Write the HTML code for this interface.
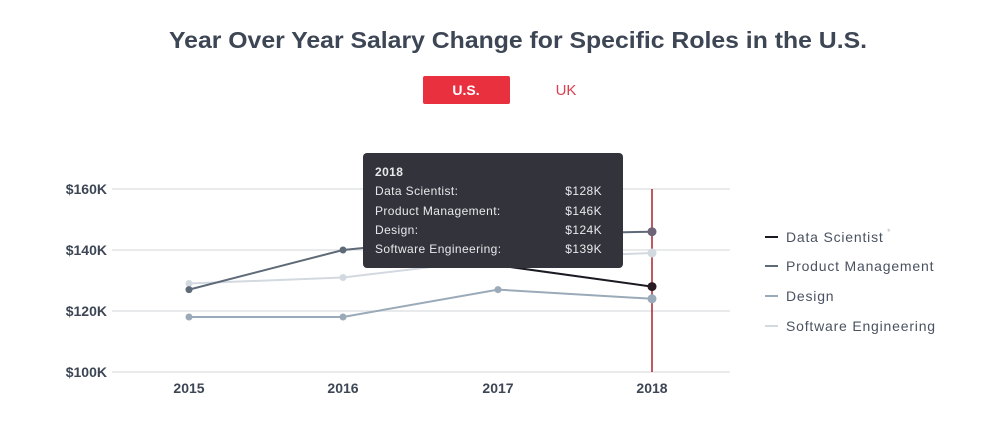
<!DOCTYPE html>
<html><head><meta charset="utf-8"><style>
body{margin:0;width:1000px;height:437px;background:#fff;overflow:hidden;font-family:"Liberation Sans",sans-serif}
</style></head><body>
<svg width="1000" height="437" xmlns="http://www.w3.org/2000/svg" font-family="Liberation Sans, sans-serif">
<text x="518" y="48" text-anchor="middle" font-size="23" font-weight="bold" fill="#3d4654" textLength="698" lengthAdjust="spacingAndGlyphs">Year Over Year Salary Change for Specific Roles in the U.S.</text>
<rect x="423" y="76" width="87" height="28" rx="2" fill="#e8303f"/>
<text x="466" y="95" text-anchor="middle" font-size="14" font-weight="bold" fill="#fff">U.S.</text>
<text x="566" y="95" text-anchor="middle" font-size="15" fill="#d94050">UK</text>
<g stroke="#e1e3e6" stroke-width="1.5">
<line x1="112" y1="189" x2="730" y2="189"/><line x1="112" y1="250" x2="730" y2="250"/>
<line x1="112" y1="311" x2="730" y2="311"/><line x1="112" y1="372" x2="730" y2="372"/>
</g>
<g font-size="14" font-weight="bold" fill="#3d4654">
<text x="107" y="194" text-anchor="end">$160K</text><text x="107" y="255" text-anchor="end">$140K</text>
<text x="107" y="316" text-anchor="end">$120K</text><text x="107" y="377" text-anchor="end">$100K</text>
<text x="189" y="393" text-anchor="middle">2015</text><text x="343" y="393" text-anchor="middle">2016</text>
<text x="498" y="393" text-anchor="middle">2017</text><text x="652" y="393" text-anchor="middle">2018</text>
</g>
<line x1="652" y1="189" x2="652" y2="372" stroke="#a8232e" stroke-width="1.5"/>
<g fill="none" stroke-width="2">
<polyline points="189,283.5 343,277.5 498,259 652,253" stroke="#d3d9e0"/>
<polyline points="189,317 343,317 498,289.6 652,298.8" stroke="#9aaab8"/>
<polyline points="189,289.6 343,250 498,234.8 652,231.7" stroke="#5e6a78"/>
<polyline points="498,265.3 652,286.6" stroke="#1a1a22"/>
</g>
<g>
<circle cx="189" cy="283.5" r="3.5" fill="#d3d9e0"/><circle cx="343" cy="277.5" r="3.5" fill="#d3d9e0"/><circle cx="652" cy="253" r="4.5" fill="#d3d9e0"/>
<circle cx="189" cy="317" r="3.5" fill="#9aaab8"/><circle cx="343" cy="317" r="3.5" fill="#9aaab8"/><circle cx="498" cy="289.6" r="3.5" fill="#9aaab8"/><circle cx="652" cy="298.8" r="4.5" fill="#9aaab8"/>
<circle cx="189" cy="289.6" r="3.5" fill="#5e6a78"/><circle cx="343" cy="250" r="3.5" fill="#5e6a78"/><circle cx="652" cy="231.7" r="4.5" fill="#6e6478"/>
<circle cx="652" cy="286.6" r="4.5" fill="#2a1a22"/>
</g>
<rect x="363" y="153" width="260" height="115" rx="4" fill="#33333b"/>
<g font-size="12" fill="#e8e8ec" letter-spacing="0.4">
<text x="375" y="176" font-weight="bold" font-size="12">2018</text>
<text x="375" y="195">Data Scientist:</text><text x="602" y="195" text-anchor="end">$128K</text>
<text x="375" y="215">Product Management:</text><text x="602" y="215" text-anchor="end">$146K</text>
<text x="375" y="234">Design:</text><text x="602" y="234" text-anchor="end">$124K</text>
<text x="375" y="253">Software Engineering:</text><text x="602" y="253" text-anchor="end">$139K</text>
</g>
<g font-size="14" fill="#4a5260" letter-spacing="0.8">
<line x1="765" y1="237" x2="778" y2="237" stroke="#1a1a22" stroke-width="2"/><text x="786" y="242">Data Scientist</text><text x="887" y="235" font-size="9" fill="#bbb">*</text>
<line x1="765" y1="266" x2="778" y2="266" stroke="#5e6a78" stroke-width="2"/><text x="786" y="271">Product Management</text>
<line x1="765" y1="296" x2="778" y2="296" stroke="#9aaab8" stroke-width="2"/><text x="786" y="301">Design</text>
<line x1="765" y1="326" x2="778" y2="326" stroke="#d3d9e0" stroke-width="2"/><text x="786" y="331">Software Engineering</text>
</g>
</svg>
</body></html>
